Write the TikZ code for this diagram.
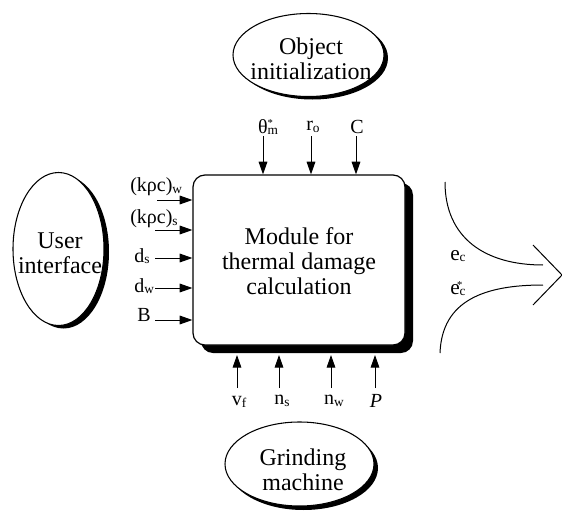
\documentclass[tikz,border=0pt]{standalone}
\usepackage{fontspec}
\setmainfont{Liberation Serif}
\usetikzlibrary{arrows.meta,shapes.geometric}
% small lowered index letters, as used in the parameter names
\newcommand{\idx}[1]{\raisebox{-1.2pt}{\fontsize{10}{10}\selectfont #1}}
\newcommand{\tinystar}[1]{\rlap{\raisebox{#1}{\fontsize{8}{8}\selectfont *}}}
\begin{document}
\begin{tikzpicture}[x=0.75pt,y=-0.75pt,
  bigtext/.style={font=\fontsize{18}{18.75}\selectfont, align=center, inner sep=0pt},
  lbl/.style={font=\fontsize{15}{15}\selectfont, inner sep=0pt},
  oval/.style={ellipse, draw, fill=white, line width=0.8pt, inner sep=0pt},
  ovalshade/.style={ellipse, fill=black, inner sep=0pt},
  feed/.style={line width=0.75pt, -{Triangle[length=9.5pt,width=6.5pt]}},
  flow/.style={line width=0.75pt}]
\useasboundingbox (0,0) rectangle (562,511);

% ---- source ovals with drop shadows ----
\node[ovalshade, minimum width=113.25pt, minimum height=62.25pt] at (312.5,58) {};
\node[oval, minimum width=113.25pt, minimum height=62.25pt] (obj) at (308.5,55) {};
\node[bigtext] (objtxt) at (311,59) {Object\\initialization};

\node[ovalshade, minimum width=68.25pt, minimum height=114.75pt] at (63.5,252) {};
\node[oval, minimum width=68.25pt, minimum height=114.75pt] (user) at (58.5,249) {};
\node[bigtext] (usertxt) at (60,253) {User\\interface};

\node[ovalshade, minimum width=111.75pt, minimum height=63pt] at (303.5,468) {};
\node[oval, minimum width=111.75pt, minimum height=63pt] (grind) at (299.5,464) {};
\node[bigtext] (grindtxt) at (303,470) {Grinding\\machine};

% ---- calculation module with drop shadow ----
\fill[rounded corners=9pt] (201,183) rectangle (413,353);
\node[draw, fill=white, line width=0.9pt, rounded corners=9pt,
      minimum width=159pt, minimum height=127.5pt, inner sep=0pt] (mod) at (299,260) {};
\node[bigtext] (modtxt) at (299,261) {Module for\\thermal damage\\calculation};

% ---- inputs from the object initialization ----
\node[lbl] (thm) at (268,127) {θ\tinystar{5pt}\idx{m}};
\node[lbl] (ro) at (313,127) {r\idx{o}};
\node[lbl] (cc) at (357,127) {C};
\coordinate (thmT) at (263,136);
\coordinate (roT) at (311,136);
\coordinate (ccT) at (356,136);
\draw[feed] (thmT) -- (thmT |- mod.north);
\draw[feed] (roT) -- (roT |- mod.north);
\draw[feed] (ccT) -- (ccT |- mod.north);

% ---- inputs from the user interface ----
\node[lbl, anchor=west] (kw) at (130,187) {(kρc)\idx{w}};
\node[lbl, anchor=west] (ks) at (130,219) {(kρc)\idx{s}};
\node[lbl, anchor=west] (ds) at (134,256) {d\idx{s}};
\node[lbl, anchor=west] (dw) at (134,286) {d\idx{w}};
\node[lbl, anchor=west] (bb) at (137,315) {B};
\coordinate (kwT) at (157,200);
\coordinate (ksT) at (155,230);
\coordinate (dsT) at (155,258);
\coordinate (dwT) at (155,288);
\coordinate (bbT) at (155,320);
\draw[feed] (kwT) -- (kwT -| mod.west);
\draw[feed] (ksT) -- (ksT -| mod.west);
\draw[feed] (dsT) -- (dsT -| mod.west);
\draw[feed] (dwT) -- (dwT -| mod.west);
\draw[feed] (bbT) -- (bbT -| mod.west);

% ---- inputs from the grinding machine ----
\coordinate (mbot) at (299,355);
\node[lbl] (vf) at (239,402) {v\idx{f}};
\node[lbl] (ns) at (282,401) {n\idx{s}};
\node[lbl] (nw) at (334,401) {n\idx{w}};
\node[lbl] (pp) at (376,401) {\textit{P}};
\coordinate (vfT) at (237,388);
\coordinate (nsT) at (279,388);
\coordinate (nwT) at (331,388);
\coordinate (ppT) at (375,388);
\draw[feed] (vfT) -- (vfT |- mbot);
\draw[feed] (nsT) -- (nsT |- mbot);
\draw[feed] (nwT) -- (nwT |- mbot);
\draw[feed] (ppT) -- (ppT |- mbot);

% ---- outputs merging into the result ----
\coordinate (upA) at (445,182);
\coordinate (upB) at (543,265);
\coordinate (loA) at (440,353);
\coordinate (loB) at (543,285);
\coordinate (chT) at (533,245);
\coordinate (chM) at (562,275);
\coordinate (chB) at (533,305);
\draw[flow] (upA) .. controls (445,238) and (485,265) .. (upB);
\draw[flow] (loA) .. controls (442,300) and (485,285) .. (loB);
\draw[flow] (chT) -- (chM) -- (chB);
\node[lbl, font=\fontsize{16}{16}\selectfont, anchor=west] (ec) at (450,256) {e\idx{c}};
\node[lbl, font=\fontsize{16}{16}\selectfont, anchor=west] (ecs) at (450,289) {e\kern-2pt\tinystar{4pt}\kern2pt\idx{c}};
\end{tikzpicture}
\end{document}
